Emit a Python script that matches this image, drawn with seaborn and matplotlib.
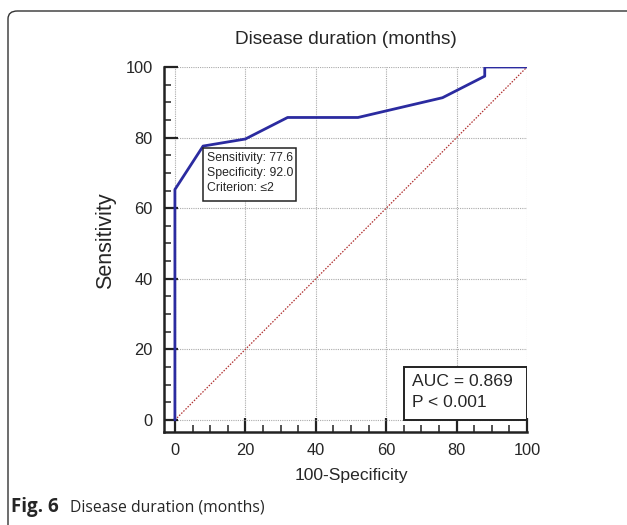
import numpy as np
import pandas as pd
import matplotlib.pyplot as plt
import seaborn as sns
from matplotlib.patches import FancyBboxPatch, Rectangle
from matplotlib.ticker import MultipleLocator

# ROC points
fpr = [0, 0, 8, 20, 32, 52, 76, 88, 88, 100]
tpr = [0, 65.3, 77.6, 79.6, 85.7, 85.7, 91.3, 97.4, 100, 100]
ref_line = [0, 100]

title = 'Disease duration (months)'
cut_text = 'Sensitivity: 77.6\nSpecificity: 92.0\nCriterion: \u22642'
auc_text = 'AUC = 0.869\nP < 0.001'

sns.set_style('white')
plt.rcParams['font.family'] = ['Liberation Sans', 'DejaVu Sans']

fig = plt.figure(figsize=(6.27, 5.25), dpi=100)
ax = fig.add_axes([164 / 627, 93 / 525, 363 / 627, 365 / 525])

roc = pd.DataFrame({'fpr': fpr, 'tpr': tpr})
diag = pd.DataFrame({'x': ref_line, 'y': ref_line})

sns.lineplot(data=diag, x='x', y='y', ax=ax, color='#b03030', lw=0.9,
             linestyle=(0, (1.2, 1.2)), zorder=2)
sns.lineplot(data=roc, x='fpr', y='tpr', ax=ax, sort=False, estimator=None,
             color='#2b2ba0', lw=2.0, zorder=3)

ax.set_xlim(-3.1, 100)
ax.set_ylim(-3.4, 100)
ax.xaxis.set_major_locator(MultipleLocator(20))
ax.yaxis.set_major_locator(MultipleLocator(20))
ax.xaxis.set_minor_locator(MultipleLocator(5))
ax.yaxis.set_minor_locator(MultipleLocator(5))
ax.tick_params(which='major', direction='in', length=10, width=1.6,
               labelsize=11.8, pad=8, color='#222222', left=True, bottom=True)
ax.tick_params(which='minor', direction='in', length=5, width=1.1,
               color='#222222', left=True, bottom=True)
ax.grid(True, which='major', color='#aaaaaa', linestyle=(0, (1, 1)), lw=0.8)
for s in ['top', 'right']:
    ax.spines[s].set_visible(False)
for s in ['left', 'bottom']:
    ax.spines[s].set_linewidth(1.8)
    ax.spines[s].set_color('#222222')

ax.set_title(title, fontsize=13.7, pad=16.5)
ax.set_xlabel('100-Specificity', fontsize=12.6)
ax.set_ylabel('Sensitivity', fontsize=15.5)
ax.xaxis.set_label_coords(0.515, -0.099)
ax.yaxis.set_label_coords(-0.133, 0.523)

# cut-off annotation box
ax.add_patch(Rectangle((8, 62), 26.4, 15.1, fc='white', ec='#222222',
                       lw=1.1, zorder=5))
ax.text(9.2, 75.9, cut_text, fontsize=8.8, va='top', ha='left',
        linespacing=1.32, zorder=6)

# AUC box
ax.add_patch(Rectangle((65, 0), 35, 15, fc='white', ec='#222222',
                       lw=1.4, zorder=5))
ax.text(67.3, 13.0, auc_text, fontsize=12.6, va='top', ha='left',
        linespacing=1.5, zorder=6)

# outer frame of the figure panel
frame = FancyBboxPatch((8 / 627, -0.2), 1.2, 1 - 11 / 525 + 0.2,
                       boxstyle='round,pad=0,rounding_size=0.015',
                       transform=fig.transFigure, fill=False,
                       ec='#333333', lw=1.0, clip_on=False)
fig.patches.append(frame)

fig.text(11 / 627, 1 - 507 / 525, 'Fig. 6', fontsize=13.5, fontweight='bold',
         family=['Open Sans', 'DejaVu Sans'], va='center', ha='left')
fig.text(70 / 627, 1 - 507 / 525, 'Disease duration (months)', fontsize=11.3,
         family=['Open Sans', 'DejaVu Sans'], va='center', ha='left')

fig.savefig('out.png', dpi=100)
